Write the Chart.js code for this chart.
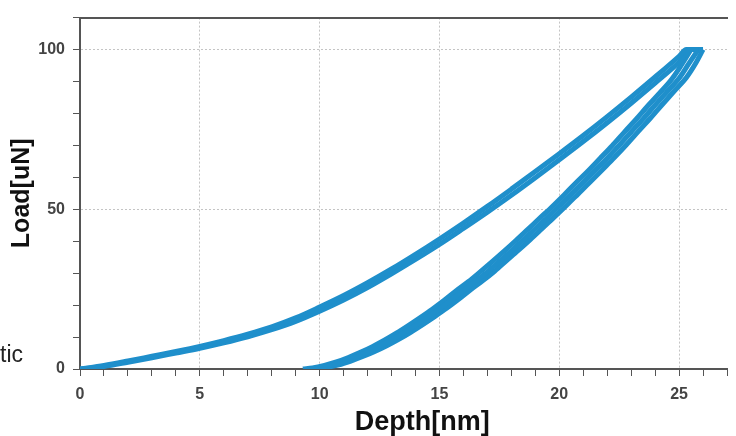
<!DOCTYPE html>
<html>
<head>
<meta charset="utf-8">
<script src="https://cdn.jsdelivr.net/npm/chart.js@4"></script>
<style>
  body { margin: 0; background: #fff; }
  #wrap { width: 736px; height: 436px; position: relative; }
</style>
</head>
<body>
<div id="wrap"><canvas id="load-chart"></canvas></div>
<script>
// loading curves (two cycles)
const loadDepth1 = [0, 1, 2, 3, 4, 5, 6, 7, 8, 9, 10, 11, 12, 13, 14, 15, 16, 17, 18, 19, 20, 21, 22, 23, 24, 25, 25.3, 25.8];
const loadForce1 = [0, 1.1, 2.5, 4.0, 5.5, 7.1, 8.9, 10.9, 13.2, 16.0, 19.4, 23.0, 27.0, 31.3, 35.9, 40.7, 45.7, 50.9, 56.3, 61.8, 67.4, 73.1, 79.0, 85.1, 91.4, 97.9, 100, 100];
const loadDepth2 = [0, 1, 2, 3, 4, 5, 6, 7, 8, 9, 10, 11, 12, 13, 14, 15, 16, 17, 18, 19, 20, 21, 22, 23, 24, 25, 25.5, 26];
const loadForce2 = [0, 0.8, 2.1, 3.5, 5.0, 6.5, 8.2, 10.1, 12.3, 14.9, 18.1, 21.6, 25.5, 29.8, 34.3, 39.0, 44.0, 49.1, 54.4, 59.9, 65.5, 71.2, 77.1, 83.2, 89.5, 96.0, 100, 100];

// unloading curves (three cycles)
const unloadDepth1 = [25.8, 25.4, 25, 24.5, 24, 23.5, 23, 22.5, 22, 21.5, 21, 20.5, 20, 19.5, 19, 18.5, 18, 17.5, 17, 16.5, 16, 15.5, 15, 14.5, 14, 13.5, 13, 12.5, 12, 11.5, 11, 10.5, 10, 9.6];
const unloadForce1 = [100, 95.5, 91, 86.8, 82.6, 78.3, 74.2, 70, 66, 62.2, 58.4, 54.7, 51, 47.4, 43.9, 40.4, 37, 33.7, 30.4, 27.4, 24.6, 21.6, 18.8, 16.2, 13.7, 11.3, 9.1, 7.1, 5.3, 3.7, 2.3, 1.2, 0.4, 0];
const unloadDepth2 = [25.5, 25.1, 24.7, 24.2, 23.7, 23.2, 22.7, 22.2, 21.7, 21.2, 20.7, 20.2, 19.7, 19.2, 18.7, 18.2, 17.7, 17.2, 16.7, 16.2, 15.7, 15.2, 14.7, 14.2, 13.7, 13.2, 12.7, 12.2, 11.7, 11.2, 10.7, 10.2, 9.7, 9.3];
const unloadForce2 = [100, 95.2, 90.8, 86.5, 82.4, 78.1, 74.0, 69.8, 65.9, 62.0, 58.3, 54.5, 50.8, 47.3, 43.8, 40.3, 36.9, 33.6, 30.4, 27.3, 24.5, 21.5, 18.7, 16.1, 13.6, 11.2, 9.0, 7.0, 5.2, 3.6, 2.2, 1.1, 0.3, 0];
const unloadDepth3 = [26, 25.7, 25.3, 24.8, 24.3, 23.8, 23.3, 22.8, 22.3, 21.8, 21.3, 20.8, 20.3, 19.8, 19.3, 18.8, 18.3, 17.8, 17.3, 16.8, 16.3, 15.8, 15.3, 14.8, 14.3, 13.8, 13.3, 12.8, 12.3, 11.8, 11.3, 10.8, 10.3, 9.9];
const unloadForce3 = [100, 95.8, 91.2, 87.0, 82.8, 78.5, 74.4, 70.2, 66.2, 62.4, 58.6, 54.9, 51.2, 47.6, 44.1, 40.6, 37.2, 33.9, 30.6, 27.6, 24.8, 21.8, 19.0, 16.4, 13.9, 11.5, 9.3, 7.3, 5.5, 3.9, 2.5, 1.3, 0.5, 0];

const xTickLabels = [0, 5, 10, 15, 20, 25];
const yTickLabels = [0, 50, 100];

const lineColor = "#1f8fcb";

function toPoints(xs, ys) {
  return xs.map((x, i) => ({ x: x, y: ys[i] }));
}

function makeSet(xs, ys) {
  return {
    data: toPoints(xs, ys),
    borderColor: lineColor,
    borderWidth: 5,
    pointRadius: 0,
    cubicInterpolationMode: "monotone",
    fill: false
  };
}

// stray text cut from the neighbouring figure
const sideText = {
  id: "sideText",
  afterDraw(chart) {
    const ctx = chart.ctx;
    ctx.save();
    ctx.fillStyle = "#222";
    ctx.font = "23px 'Liberation Sans', Arial, sans-serif";
    ctx.textBaseline = "alphabetic";
    ctx.fillText("tic", 0, 362);
    ctx.restore();
  }
};

const ctx = document.getElementById("load-chart").getContext("2d");

new Chart(ctx, {
  type: "line",
  data: {
    datasets: [
      makeSet(loadDepth1, loadForce1),
      makeSet(loadDepth2, loadForce2),
      makeSet(unloadDepth1, unloadForce1),
      makeSet(unloadDepth2, unloadForce2),
      makeSet(unloadDepth3, unloadForce3)
    ]
  },
  plugins: [sideText],
  options: {
    responsive: true,
    maintainAspectRatio: false,
    animation: false,
    layout: { padding: 0 },
    plugins: {
      legend: { display: false },
      tooltip: { enabled: false }
    },
    scales: {
      x: {
        type: "linear",
        position: "bottom",
        min: 0,
        max: 27,
        afterFit(scale) { scale.height = 67; },
        ticks: {
          stepSize: 1,
          autoSkip: false,
          maxRotation: 0,
          padding: 9,
          color: "#444",
          font: { family: "'Liberation Sans', Arial, sans-serif", size: 16, weight: "bold" },
          callback: v => xTickLabels.includes(v) ? String(v) : ""
        },
        grid: {
          color: c => (c.tick && c.tick.value % 5 === 0) ? "#c4c4c4" : "rgba(0,0,0,0)",
          tickColor: "#555",
          tickLength: 7,
          lineWidth: 1
        },
        border: { color: "#555", width: 2, dash: [2, 2] },
        title: {
          display: true,
          text: "     Depth[nm]",
          color: "#111",
          font: { family: "'Liberation Sans', Arial, sans-serif", size: 27, weight: "bold", lineHeight: 1 },
          padding: { top: 0, bottom: 0 }
        }
      },
      xTop: {
        type: "linear",
        position: "top",
        min: 0,
        max: 27,
        afterFit(scale) { scale.height = 15; },
        ticks: { display: false },
        grid: { display: false, drawTicks: false },
        border: { color: "#555", width: 2 }
      },
      y: {
        type: "linear",
        min: 0,
        max: 110,
        afterFit(scale) { scale.width = 80; },
        ticks: {
          stepSize: 10,
          autoSkip: false,
          padding: 8,
          color: "#444",
          font: { family: "'Liberation Sans', Arial, sans-serif", size: 16, weight: "bold" },
          callback: v => yTickLabels.includes(v) ? String(v) : ""
        },
        grid: {
          color: c => (c.tick && c.tick.value % 50 === 0) ? "#c4c4c4" : "rgba(0,0,0,0)",
          tickColor: "#555",
          tickLength: 7,
          lineWidth: 1
        },
        border: { color: "#555", width: 2, dash: [2, 2] },
        title: {
          display: true,
          text: "Load[uN]",
          color: "#111",
          font: { family: "'Liberation Sans', Arial, sans-serif", size: 25, weight: "bold", lineHeight: 1.2 },
          padding: { top: 7, bottom: 0 }
        }
      }
    }
  }
});
</script>
</body>
</html>
